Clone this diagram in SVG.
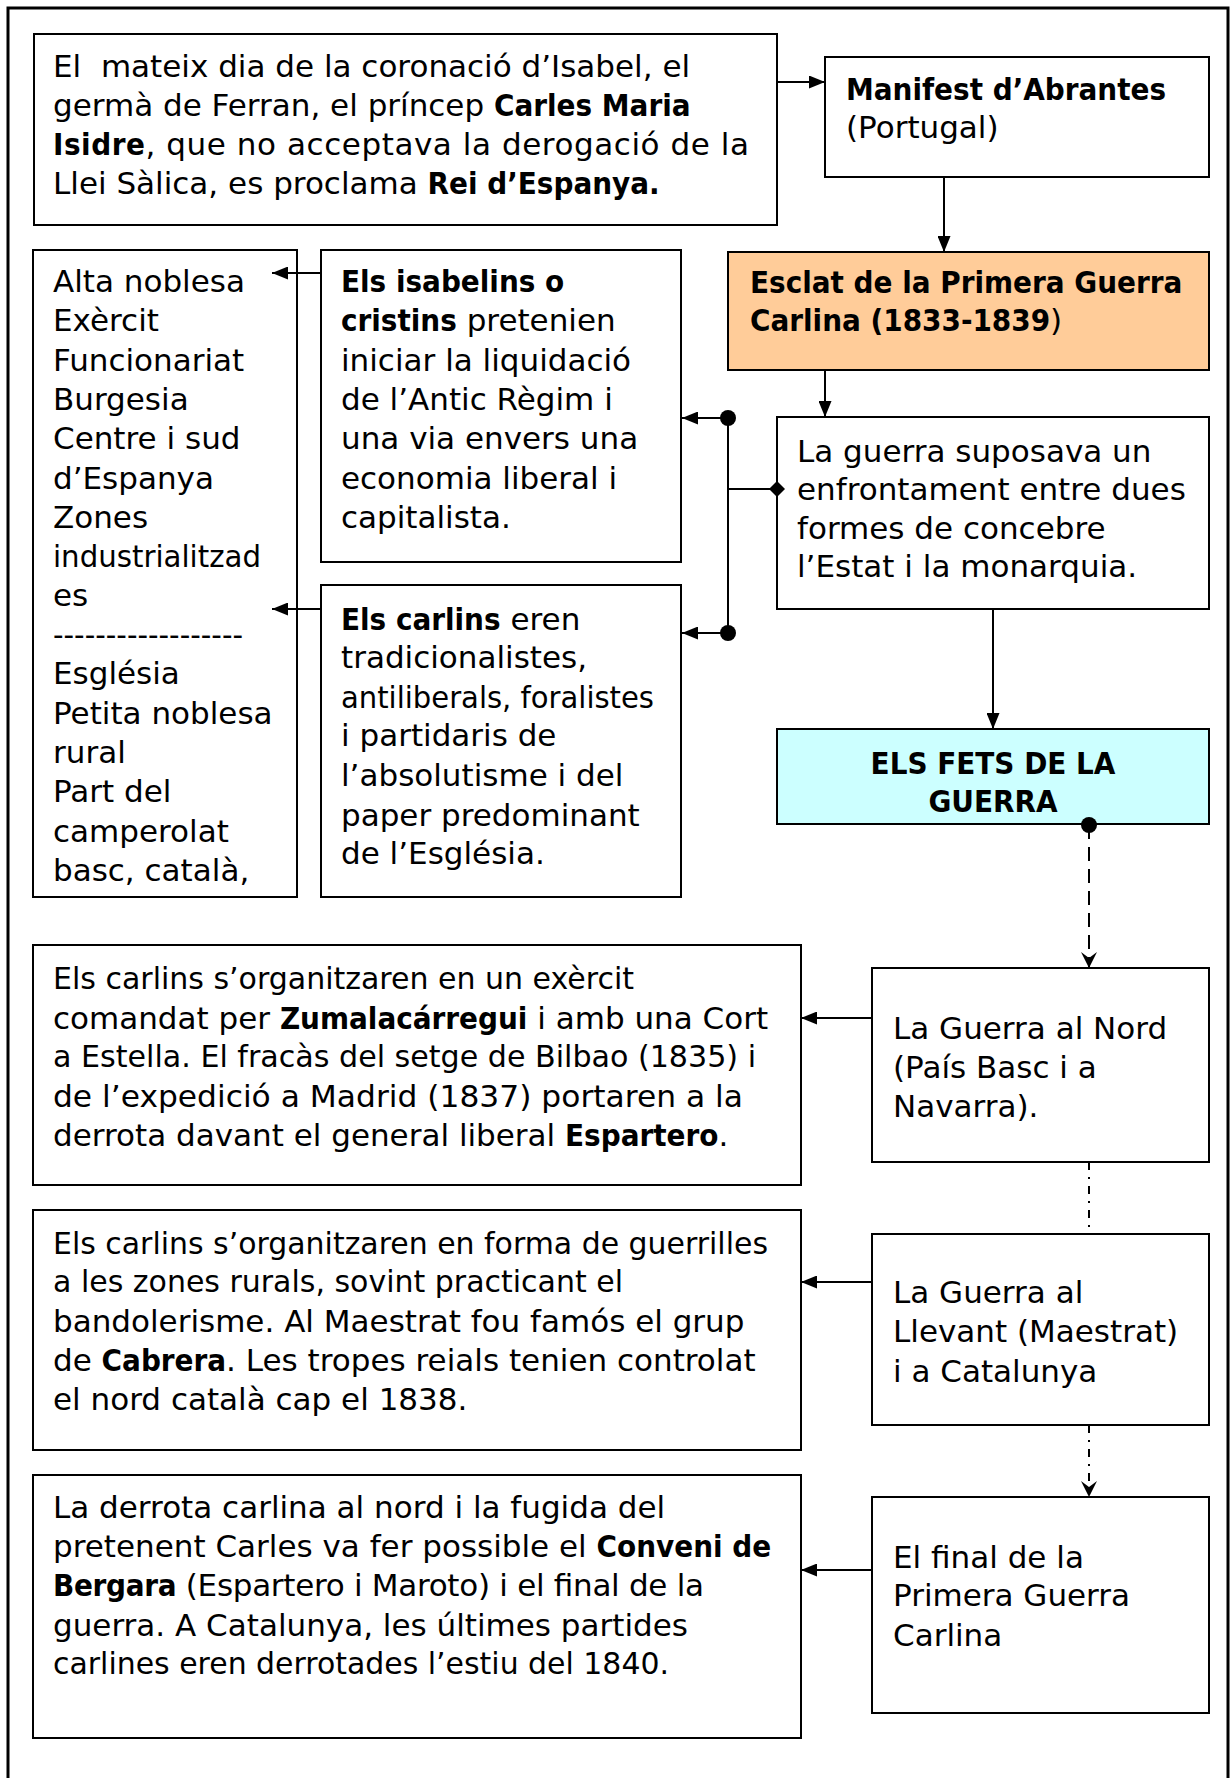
<svg xmlns="http://www.w3.org/2000/svg" width="1232" height="1778" viewBox="0 0 1232 1778">
<style>
.box{fill:#fff;stroke:#000;stroke-width:2}
.t{font-family:"DejaVu Sans","Liberation Sans",sans-serif;font-size:31px;fill:#000;white-space:pre}
.b{font-weight:bold;font-stretch:condensed}
.ln{fill:none;stroke:#000;stroke-width:2}
</style>
<defs>
<marker id="arr" markerUnits="userSpaceOnUse" viewBox="0 0 16 13" refX="16" refY="6.5" markerWidth="16" markerHeight="13" orient="auto"><path d="M0,0 L16,6.5 L0,13 z" fill="#000"/></marker>
<marker id="varr" markerUnits="userSpaceOnUse" viewBox="0 0 16 16" refX="16" refY="8" markerWidth="16" markerHeight="16" orient="auto"><path d="M0,0 L16,8 L0,16 L6,8 z" fill="#000"/></marker>
<marker id="dot" markerUnits="userSpaceOnUse" viewBox="0 0 18 18" refX="9" refY="9" markerWidth="18" markerHeight="18"><circle cx="9" cy="9" r="8" fill="#000"/></marker>
<marker id="dia" markerUnits="userSpaceOnUse" viewBox="0 0 16 16" refX="8" refY="8" markerWidth="16" markerHeight="16"><path d="M8,0 L16,8 L8,16 L0,8 z" fill="#000"/></marker>
</defs>
<rect x="8" y="8" width="1220" height="1790" fill="none" stroke="#000" stroke-width="3"/>

<g id="n-intro">
<rect class="box" x="34" y="34" width="743" height="191"/>
<text class="t" x="53" y="77">El  mateix dia de la coronació d’Isabel, el</text>
<text class="t" x="53" y="116">germà de Ferran, el príncep <tspan class="b">Carles Maria</tspan></text>
<text class="t" x="53" y="155" textLength="696" lengthAdjust="spacing"><tspan class="b">Isidre</tspan>, que no acceptava la derogació de la</text>
<text class="t" x="53" y="194">Llei Sàlica, es proclama <tspan class="b">Rei d’Espanya.</tspan></text>
</g>

<g id="n-manifest">
<rect class="box" x="825" y="57" width="384" height="120"/>
<text class="t" x="846" y="100"><tspan class="b">Manifest d’Abrantes</tspan></text>
<text class="t" x="846" y="138">(Portugal)</text>
</g>

<g id="n-esclat">
<rect class="box" x="728" y="252" width="481" height="118" style="fill:#FFCC99"/>
<text class="t" x="750" y="293"><tspan class="b">Esclat de la Primera Guerra</tspan></text>
<text class="t" x="750" y="331"><tspan class="b">Carlina (1833-1839</tspan>)</text>
</g>

<g id="n-guerra">
<rect class="box" x="777" y="417" width="432" height="192"/>
<text class="t" x="797" y="462">La guerra suposava un</text>
<text class="t" x="797" y="500">enfrontament entre dues</text>
<text class="t" x="797" y="539">formes de concebre</text>
<text class="t" x="797" y="577">l’Estat i la monarquia.</text>
</g>

<g id="n-llista">
<rect class="box" x="33" y="250" width="264" height="647"/>
<text class="t" x="53" y="292">Alta noblesa</text>
<text class="t" x="53" y="331">Exèrcit</text>
<text class="t" x="53" y="371">Funcionariat</text>
<text class="t" x="53" y="410">Burgesia</text>
<text class="t" x="53" y="449">Centre i sud</text>
<text class="t" x="53" y="489">d’Espanya</text>
<text class="t" x="53" y="528">Zones</text>
<text class="t" x="53" y="567" textLength="208" lengthAdjust="spacingAndGlyphs">industrialitzad</text>
<text class="t" x="53" y="606">es</text>
<text class="t" x="53" y="645" textLength="190" lengthAdjust="spacingAndGlyphs">------------------</text>
<text class="t" x="53" y="684">Església</text>
<text class="t" x="53" y="724">Petita noblesa</text>
<text class="t" x="53" y="763">rural</text>
<text class="t" x="53" y="802">Part del</text>
<text class="t" x="53" y="842">camperolat</text>
<text class="t" x="53" y="881">basc, català,</text>
</g>

<g id="n-isabelins">
<rect class="box" x="321" y="250" width="360" height="312"/>
<text class="t" x="341" y="292"><tspan class="b">Els isabelins o</tspan></text>
<text class="t" x="341" y="331"><tspan class="b">cristins</tspan> pretenien</text>
<text class="t" x="341" y="371">iniciar la liquidació</text>
<text class="t" x="341" y="410">de l’Antic Règim i</text>
<text class="t" x="341" y="449">una via envers una</text>
<text class="t" x="341" y="489">economia liberal i</text>
<text class="t" x="341" y="528">capitalista.</text>
</g>

<g id="n-carlins">
<rect class="box" x="321" y="585" width="360" height="312"/>
<text class="t" x="341" y="630"><tspan class="b">Els carlins</tspan> eren</text>
<text class="t" x="341" y="668">tradicionalistes,</text>
<text class="t" x="341" y="708" textLength="313" lengthAdjust="spacingAndGlyphs">antiliberals, foralistes</text>
<text class="t" x="341" y="746">i partidaris de</text>
<text class="t" x="341" y="786">l’absolutisme i del</text>
<text class="t" x="341" y="826">paper predominant</text>
<text class="t" x="341" y="864">de l’Església.</text>
</g>

<g id="n-fets">
<rect class="box" x="777" y="729" width="432" height="95" style="fill:#CCFFFF"/>
<text class="t" x="993" y="774" text-anchor="middle"><tspan class="b">ELS FETS DE LA</tspan></text>
<text class="t" x="993" y="812" text-anchor="middle"><tspan class="b">GUERRA</tspan></text>
</g>

<g id="n-nord">
<rect class="box" x="872" y="968" width="337" height="194"/>
<text class="t" x="893" y="1039">La Guerra al Nord</text>
<text class="t" x="893" y="1078">(País Basc i a</text>
<text class="t" x="893" y="1117">Navarra).</text>
</g>

<g id="n-nord-text">
<rect class="box" x="33" y="945" width="768" height="240"/>
<text class="t" x="53" y="989" textLength="581" lengthAdjust="spacingAndGlyphs">Els carlins s’organitzaren en un exèrcit</text>
<text class="t" x="53" y="1029">comandat per <tspan class="b">Zumalacárregui</tspan> i amb una Cort</text>
<text class="t" x="53" y="1067" textLength="703" lengthAdjust="spacingAndGlyphs">a Estella. El fracàs del setge de Bilbao (1835) i</text>
<text class="t" x="53" y="1107" textLength="690" lengthAdjust="spacingAndGlyphs">de l’expedició a Madrid (1837) portaren a la</text>
<text class="t" x="53" y="1146">derrota davant el general liberal <tspan class="b">Espartero</tspan>.</text>
</g>

<g id="n-llevant">
<rect class="box" x="872" y="1234" width="337" height="191"/>
<text class="t" x="893" y="1303">La Guerra al</text>
<text class="t" x="893" y="1342">Llevant (Maestrat)</text>
<text class="t" x="893" y="1382">i a Catalunya</text>
</g>

<g id="n-llevant-text">
<rect class="box" x="33" y="1210" width="768" height="240"/>
<text class="t" x="53" y="1254" textLength="715" lengthAdjust="spacingAndGlyphs">Els carlins s’organitzaren en forma de guerrilles</text>
<text class="t" x="53" y="1292" textLength="570" lengthAdjust="spacingAndGlyphs">a les zones rurals, sovint practicant el</text>
<text class="t" x="53" y="1332">bandolerisme. Al Maestrat fou famós el grup</text>
<text class="t" x="53" y="1371">de <tspan class="b">Cabrera</tspan>. Les tropes reials tenien controlat</text>
<text class="t" x="53" y="1410">el nord català cap el 1838.</text>
</g>

<g id="n-final">
<rect class="box" x="872" y="1497" width="337" height="216"/>
<text class="t" x="893" y="1568">El final de la</text>
<text class="t" x="893" y="1606">Primera Guerra</text>
<text class="t" x="893" y="1646">Carlina</text>
</g>

<g id="n-final-text">
<rect class="box" x="33" y="1475" width="768" height="263"/>
<text class="t" x="53" y="1518">La derrota carlina al nord i la fugida del</text>
<text class="t" x="53" y="1557">pretenent Carles va fer possible el <tspan class="b">Conveni de</tspan></text>
<text class="t" x="53" y="1596" textLength="651" lengthAdjust="spacing"><tspan class="b">Bergara</tspan> (Espartero i Maroto) i el final de la</text>
<text class="t" x="53" y="1636">guerra. A Catalunya, les últimes partides</text>
<text class="t" x="53" y="1674" textLength="616" lengthAdjust="spacingAndGlyphs">carlines eren derrotades l’estiu del 1840.</text>
</g>

<g id="connectors">
<line class="ln" x1="777" y1="82" x2="825" y2="82" marker-end="url(#arr)"/>
<line class="ln" x1="944" y1="177" x2="944" y2="252" marker-end="url(#arr)"/>
<line class="ln" x1="825" y1="370" x2="825" y2="417" marker-end="url(#arr)"/>
<line class="ln" x1="993" y1="609" x2="993" y2="729" marker-end="url(#arr)"/>
<line class="ln" x1="777" y1="489" x2="728" y2="489" marker-start="url(#dia)"/>
<line class="ln" x1="728" y1="418" x2="728" y2="633"/>
<line class="ln" x1="728" y1="418" x2="682" y2="418" marker-start="url(#dot)" marker-end="url(#arr)"/>
<line class="ln" x1="728" y1="633" x2="682" y2="633" marker-start="url(#dot)" marker-end="url(#arr)"/>
<line class="ln" x1="321" y1="273" x2="272" y2="273" marker-end="url(#arr)"/>
<line class="ln" x1="321" y1="609" x2="272" y2="609" marker-end="url(#arr)"/>
<line class="ln" x1="1089" y1="825" x2="1089" y2="968" stroke-dasharray="14 8" marker-start="url(#dot)" marker-end="url(#varr)"/>
<line class="ln" x1="1089" y1="1162" x2="1089" y2="1234" stroke-dasharray="8 7 2 7"/>
<line class="ln" x1="1089" y1="1425" x2="1089" y2="1497" stroke-dasharray="8 7 2 7" marker-end="url(#varr)"/>
<line class="ln" x1="872" y1="1018" x2="801" y2="1018" marker-end="url(#arr)"/>
<line class="ln" x1="872" y1="1282" x2="801" y2="1282" marker-end="url(#arr)"/>
<line class="ln" x1="872" y1="1570" x2="801" y2="1570" marker-end="url(#arr)"/>
</g>
</svg>
